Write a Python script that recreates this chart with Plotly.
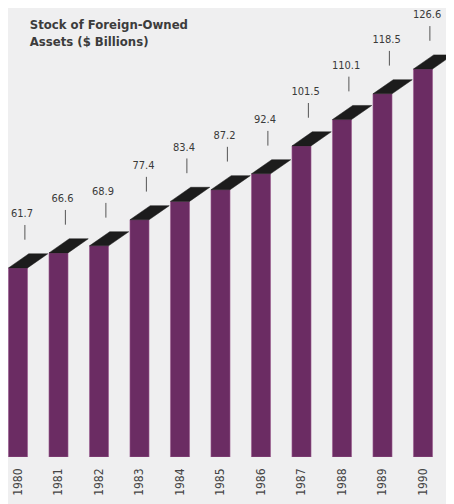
import plotly.graph_objects as go

# stock of foreign-owned assets, $ billions
years = ['1980', '1981', '1982', '1983', '1984', '1985',
         '1986', '1987', '1988', '1989', '1990']
assets = [61.7, 66.6, 68.9, 77.4, 83.4, 87.2, 92.4, 101.5, 110.1, 118.5, 126.6]
value_labels = ['61.7', '66.6', '68.9', '77.4', '83.4', '87.2',
                '92.4', '101.5', '110.1', '118.5', '126.6']

BAR_W = 0.47
TOP_DX = 0.5    # depth of the top face, in categories
TOP_DY = 4.6    # depth of the top face, in $ billions
NARROW = 'DejaVu Sans Condensed, Liberation Sans Narrow, sans-serif'

pos = list(range(len(years)))

# dark top faces of the "3d" bars
top_x, top_y = [], []
for i, v in zip(pos, assets):
    left, right = i - BAR_W / 2, i + BAR_W / 2
    top_x += [left, right, right + TOP_DX, left + TOP_DX, left, None]
    top_y += [v, v, v + TOP_DY, v + TOP_DY, v, None]

# leader lines from the labels
lead_x, lead_y = [], []
for i, v in zip(pos, assets):
    lead_x += [i + 0.17, i + 0.17, None]
    lead_y += [v + 9.2, v + 14.0, None]

fig = go.Figure()
fig.add_trace(go.Bar(x=pos, y=assets, width=BAR_W,
                     marker=dict(color='#6b2c63', line=dict(color='#9a5a8e', width=0.6)),
                     hoverinfo='skip'))
fig.add_trace(go.Scatter(x=top_x, y=top_y, mode='lines', fill='toself',
                         fillcolor='#1c1c1c', line=dict(color='#1c1c1c', width=0.5),
                         hoverinfo='skip'))
fig.add_trace(go.Scatter(x=lead_x, y=lead_y, mode='lines',
                         line=dict(color='#555555', width=1), hoverinfo='skip'))
fig.add_trace(go.Scatter(x=[i + 0.1 for i in pos], y=[v + 17.4 for v in assets],
                         mode='text', text=value_labels, cliponaxis=False,
                         textfont=dict(family=NARROW, size=11, color='#3a3a3a'),
                         hoverinfo='skip'))

# the page adds an 8px body margin, so the plot area is laid out 8px up/left
fig.update_layout(
    width=454, height=504,
    margin=dict(l=0, r=0, t=0, b=55),
    paper_bgcolor='#efeff0', plot_bgcolor='#efeff0',
    showlegend=False,
    title=dict(text='<b>Stock of Foreign-Owned<br>Assets ($ Billions)</b>',
               x=0.048, xanchor='left', y=0.958, yanchor='top',
               font=dict(family=NARROW, size=13, color='#3c3c3c')),
)
fig.update_xaxes(range=[-0.247, 10.963], tickmode='array', tickvals=pos, ticktext=years,
                 tickangle=-90, showgrid=False, zeroline=False, showline=False,
                 ticks='', ticklabelstandoff=8,
                 tickfont=dict(family=NARROW, size=12, color='#454545'))
fig.update_yaxes(range=[0, 146.5], visible=False, showgrid=False)

fig.write_html('out.html')
